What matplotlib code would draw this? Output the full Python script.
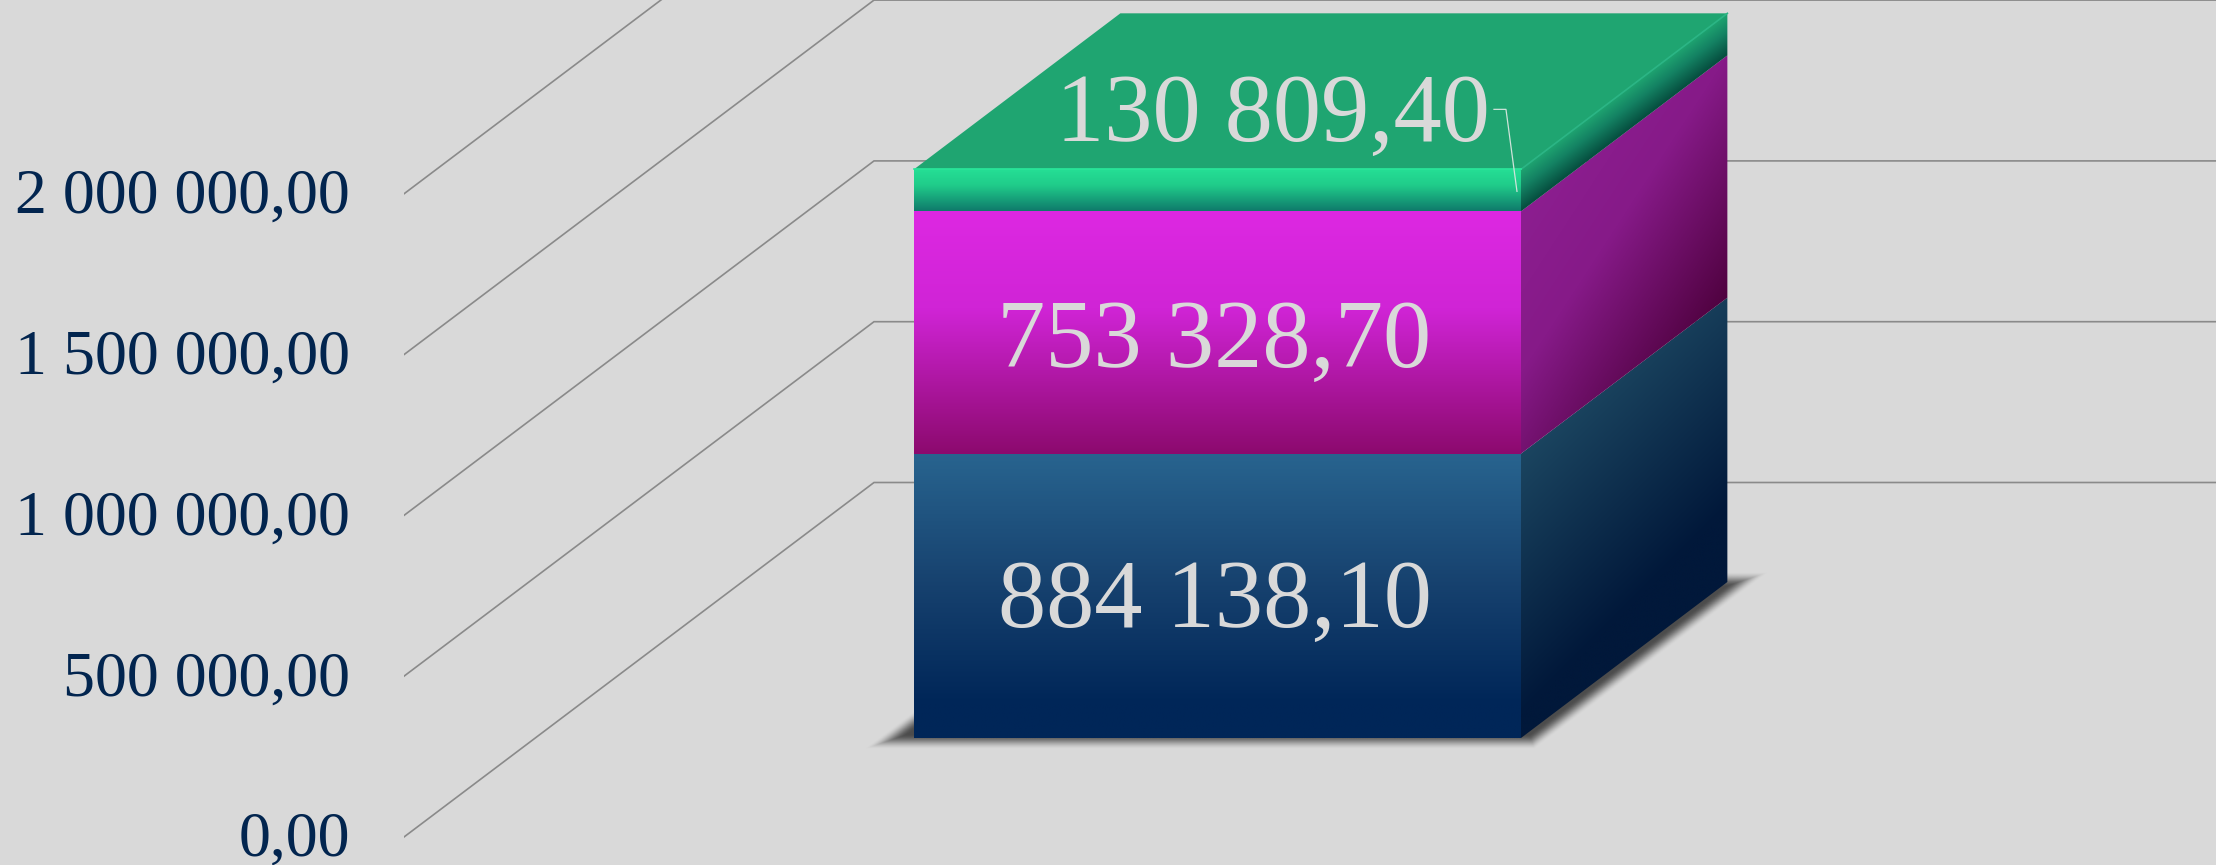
import numpy as np
import matplotlib
matplotlib.use("Agg")
import matplotlib.pyplot as plt
from matplotlib.colors import LinearSegmentedColormap
from matplotlib.patches import Polygon
from matplotlib.transforms import ScaledTranslation

# ---- data ----
segment_values = [884138.10, 753328.70, 130809.40]
segment_labels = ["884 138,10", "753 328,70", "130 809,40"]
axis_ticks = [0, 500000, 1000000, 1500000, 2000000]
axis_tick_labels = ["0,00", "500 000,00", "1 000 000,00", "1 500 000,00", "2 000 000,00"]

# ---- style ----
BG = "#D9D9D9"
TICK_COLOR = "#02254F"
GRID = "#8A8A8A"
front_stops = [
    [(0, "#28648F"), (0.45, "#17426F"), (0.88, "#002658"), (1, "#002658")],
    [(0, "#DD28E2"), (0.4, "#D024D6"), (1, "#8C0A6E")],
    [(0, "#25E096"), (0.4, "#20CC8A"), (1, "#0F7A6B")],
]
side_stops = [
    [(0, "#1B4560"), (0.78, "#01183A"), (1, "#01183A")],
    [(0, "#8C1E90"), (0.4, "#861A88"), (1, "#500240")],
    [(0, "#1FA571"), (0.45, "#148263"), (1, "#064E3F")],
]
side_dirs = [(0.15, 0.85), (0.5, 0.75), (0.0, 1.0)]
TOP_COLOR = "#1FA571"

# ---- layout (figure is 2216x865 at dpi 100) ----
W, H = 2216, 865
AXIS_LEFT = 404
PX_ZERO = 837
PX_PER_UNIT = 160.8 / 500000
WALL_DX = 469                       # oblique depth, pixels to the right
WALL_DV = 354.5 / PX_PER_UNIT       # oblique depth, in value units upward
BAR_X = 379
BAR_W = 607
BAR_D0 = 99 / 354.5
BAR_D1 = 255 / 354.5
label_offsets = [(-3, -31), (-3, -34), (55, 49)]

fig = plt.figure(figsize=(W / 100, H / 100), dpi=100, facecolor=BG)
ax = fig.add_axes([AXIS_LEFT / W, 0, 1 - AXIS_LEFT / W, 1], facecolor=BG)
XMAX = W - AXIS_LEFT
YMIN = -(H - PX_ZERO) / PX_PER_UNIT
YMAX = PX_ZERO / PX_PER_UNIT


def proj(x, v, d):
    return x + d * WALL_DX, v + d * WALL_DV


def shade(corners, stops, a=0.0, b=1.0, z=3):
    """Fill a parallelogram (p00 top-left, p10 top-right, p11, p01) with a gradient
    running along a*s + b*r in the face's own coordinates."""
    p00, p10, p11, p01 = [np.array(c, float) for c in corners]
    xs = [p[0] for p in (p00, p10, p11, p01)]
    ys = [p[1] for p in (p00, p10, p11, p01)]
    ext = (min(xs), max(xs), min(ys), max(ys))
    gx, gy = np.meshgrid(np.linspace(ext[0], ext[1], 500), np.linspace(ext[2], ext[3], 500))
    e1 = p10 - p00
    e2 = p01 - p00
    m = np.linalg.inv(np.array([[e1[0], e2[0]], [e1[1], e2[1]]]))
    s = m[0, 0] * (gx - p00[0]) + m[0, 1] * (gy - p00[1])
    r = m[1, 0] * (gx - p00[0]) + m[1, 1] * (gy - p00[1])
    t = np.clip((a * s + b * r) / (a + b), 0, 1)
    cmap = LinearSegmentedColormap.from_list("g", stops)
    im = ax.imshow(t, extent=ext, origin="lower", aspect="auto", cmap=cmap,
                   vmin=0, vmax=1, zorder=z, interpolation="bilinear")
    clip = Polygon([p00, p10, p11, p01], closed=True, transform=ax.transData)
    im.set_clip_path(clip)


def soft_shadow(x0, x1, d0, d1, blur=15, color=(0.2, 0.2, 0.2), strength=0.85, z=2):
    """Blurred floor shadow: alpha falls off across the edges of a floor parallelogram."""
    pad = 3 * blur
    y0 = d0 * WALL_DV * PX_PER_UNIT
    y1 = d1 * WALL_DV * PX_PER_UNIT
    slope = WALL_DX / (WALL_DV * PX_PER_UNIT)
    ext_px = (x0 + d0 * WALL_DX - pad, x1 + d1 * WALL_DX + pad, y0 - pad, y1 + pad)
    gx, gy = np.meshgrid(np.linspace(ext_px[0], ext_px[1], 700), np.linspace(ext_px[2], ext_px[3], 400))
    norm = np.hypot(1, slope)
    left = ((gx - x0) - slope * gy) / norm
    right = ((x1 - gx) + slope * gy) / norm
    dist = np.minimum.reduce([gy - y0, y1 - gy, left, right])
    u = np.clip(dist / blur + 0.5, 0, 1)
    alpha = strength * u * u * (3 - 2 * u)
    rgba = np.zeros(gx.shape + (4,))
    rgba[..., :3] = color
    rgba[..., 3] = alpha
    ax.imshow(rgba, extent=(ext_px[0], ext_px[1], ext_px[2] / PX_PER_UNIT, ext_px[3] / PX_PER_UNIT),
              origin="lower", aspect="auto", zorder=z, interpolation="bilinear")


# gridlines on floor edge and back wall
for v in axis_ticks:
    p0 = proj(0, v, 0)
    p1 = proj(0, v, 1)
    p2 = proj(XMAX, v, 1)
    ax.plot([p0[0], p1[0] + 1, p2[0] - WALL_DX], [p0[1], p1[1], p2[1]], color=GRID, lw=1.2, zorder=1,
            solid_joinstyle="miter")

# soft shadow under the bar
soft_shadow(BAR_X - 24, BAR_X + BAR_W + 16, BAR_D0 - 4 / 354.5, BAR_D1 + 3 / 354.5)

# stacked block
base = 0.0
for i, val in enumerate(segment_values):
    top = base + val
    fl_b = proj(BAR_X, base, BAR_D0)
    fr_b = proj(BAR_X + BAR_W, base, BAR_D0)
    fl_t = proj(BAR_X, top, BAR_D0)
    fr_t = proj(BAR_X + BAR_W, top, BAR_D0)
    br_b = proj(BAR_X + BAR_W, base, BAR_D1)
    br_t = proj(BAR_X + BAR_W, top, BAR_D1)
    shade([fl_t, fr_t, fr_b, fl_b], front_stops[i], 0.0, 1.0)
    a, b = side_dirs[i]
    shade([fr_t, br_t, br_b, fr_b], side_stops[i], a, b)
    mid = proj(BAR_X + BAR_W / 2, base + val / 2, BAR_D0)
    ax.annotate(segment_labels[i], xy=mid, xytext=label_offsets[i], textcoords="offset pixels",
                ha="center", va="baseline", color=BG, fontsize=69.5,
                family="Liberation Serif", zorder=6)
    base = top

# top face
tl = proj(BAR_X, base, BAR_D0)
tr = proj(BAR_X + BAR_W, base, BAR_D0)
bl = proj(BAR_X, base, BAR_D1)
br = proj(BAR_X + BAR_W, base, BAR_D1)
ax.add_patch(Polygon([tl, tr, br, bl], closed=True, facecolor=TOP_COLOR, edgecolor="none", zorder=4))
ax.plot([tr[0], br[0]], [tr[1], br[1]], color="#2BB585", lw=1.2, zorder=5)
ax.plot([tl[0], tr[0]], [tl[1], tr[1]], color="#2AE89C", lw=1.2, zorder=5)

# leader line for the top segment
tm = proj(BAR_X + BAR_W, base - segment_values[2] / 2, BAR_D0)
lead_x = [tm[0] - 27, tm[0] - 15, tm[0] - 4]
lead_y = [tm[1] + 81 / PX_PER_UNIT, tm[1] + 81 / PX_PER_UNIT, tm[1] - 1 / PX_PER_UNIT]
ax.plot(lead_x, lead_y, color="#CFE3DA", lw=0.9, zorder=6)

ax.set_xlim(0, XMAX)
ax.set_ylim(YMIN, YMAX)
ax.set_xticks([])
ax.set_yticks(axis_ticks)
ax.set_yticklabels(axis_tick_labels, family="Liberation Serif", fontsize=46,
                   color=TICK_COLOR, va="center_baseline")
ax.tick_params(axis="y", length=0, pad=39)
nudge = ScaledTranslation(0, 3 / 100, fig.dpi_scale_trans)
for lab in ax.get_yticklabels():
    lab.set_transform(lab.get_transform() + nudge)
for sp in ax.spines.values():
    sp.set_visible(False)

fig.savefig("out.png", dpi=100, facecolor=BG)
